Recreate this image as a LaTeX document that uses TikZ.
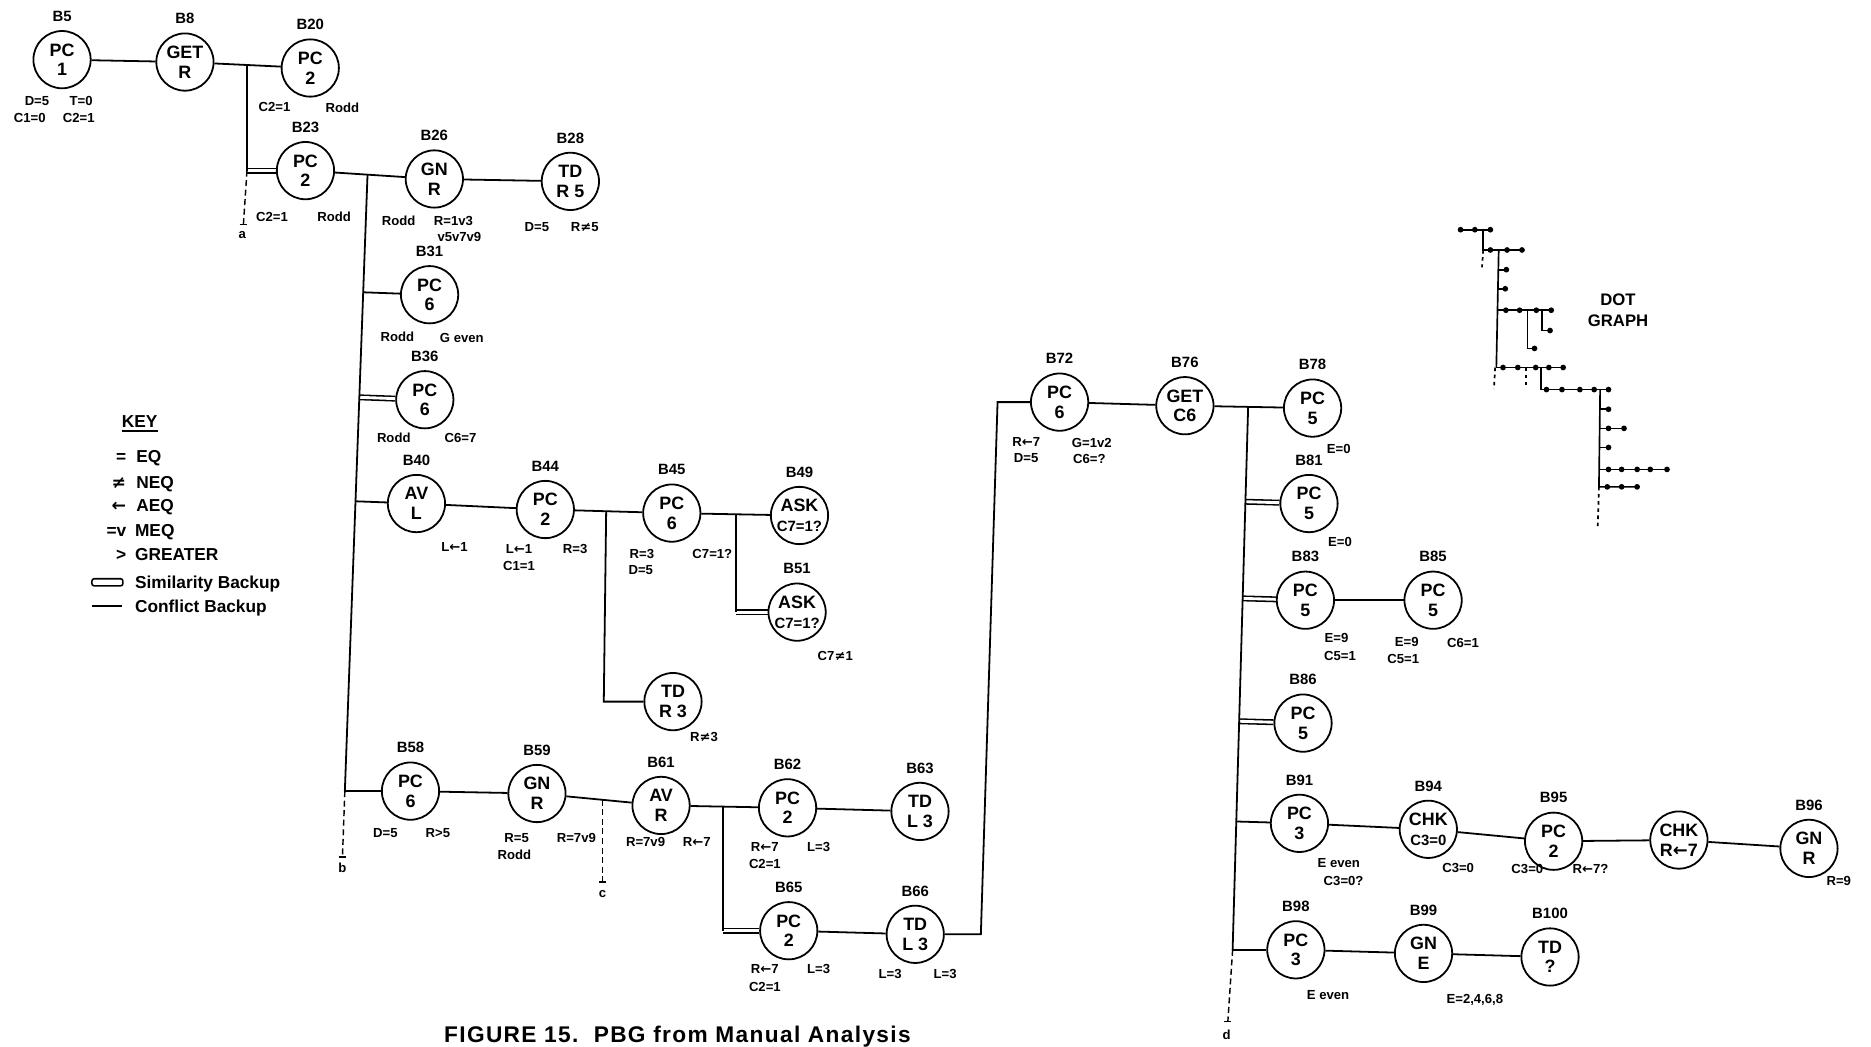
\documentclass[tikz,border=0pt]{standalone}
\usepackage{fontspec}
\setmainfont{Liberation Sans}
\newfontfamily\symf{DejaVu Sans}
\usetikzlibrary{calc}
\pgfdeclarelayer{background}
\pgfsetlayers{background,main}
\newcommand\arrl{{\symf\bfseries ←}}
\newcommand\neqs{{\symf\bfseries ≠}}
\newcommand\circF{\fontsize{15}{16.5}\selectfont\bfseries}
\newcommand\circS{\fontsize{12.5}{14}\selectfont\bfseries}
\newcommand\labF{\fontsize{12.5}{14}\selectfont\bfseries}
\newcommand\condF{\fontsize{11}{12}\selectfont\bfseries}
\newcommand\keyF{\fontsize{14.5}{16}\selectfont\bfseries}
\newcommand\capF{\fontsize{19}{22}\selectfont\bfseries}
\newcommand\bn[5]{%
  \node[circ] (#1) at (#2) {#3\\#4};
  \node[blab] (#1l) at ([yshift=7pt]#1.north) {#5};}
\newcommand\cl[3]{\node[cond] (#1) at (#2) {#3};}
\begin{document}
\begin{tikzpicture}[x=1pt,y=-1pt,
  circ/.style={circle,draw,line width=1.5pt,minimum size=48pt,inner sep=0pt,fill=white,align=center,font=\circF},
  blab/.style={anchor=south,inner sep=0pt,font=\labF},
  cond/.style={inner sep=0pt,font=\condF},
  conn/.style={line width=1.5pt},
  simil/.style={double,double distance=2.4pt,line width=1.3pt},
  dline/.style={line width=1.2pt,dash pattern=on 5pt off 3pt},
  endtick/.style={line width=1.3pt},
  endlab/.style={inner sep=0pt,font=\condF}]
\useasboundingbox (0,0) rectangle (1568,877);
\clip (0,0) rectangle (1568,877);

% ---------- nodes ----------
\bn{n5}{52,50}{PC}{1}{B5}
\bn{n8}{155,52}{GET}{R}{B8}
\bn{n20}{260,57}{PC}{2}{B20}
\bn{n23}{256,143}{PC}{2}{B23}
\bn{n26}{364,150}{GN}{R}{B26}
\bn{n28}{478,152}{TD}{R 5}{B28}
\bn{n31}{360,247}{PC}{6}{B31}
\bn{n36}{356,335}{PC}{6}{B36}
\bn{n40}{349,422}{AV}{L}{B40}
\bn{n44}{457,427}{PC}{2}{B44}
\bn{n45}{563,430}{PC}{6}{B45}
\bn{n49}{670,432}{ASK}{\circS C7=1?}{B49}
\bn{n51}{668,513}{ASK}{\circS C7=1?}{B51}
\node[circ] (ntd) at (564,588) {TD\\R 3};
\bn{n58}{344,663}{PC}{6}{B58}
\bn{n59}{450,665}{GN}{R}{B59}
\bn{n61}{554,675}{AV}{R}{B61}
\bn{n62}{660,677}{PC}{2}{B62}
\bn{n63}{771,680}{TD}{L 3}{B63}
\bn{n65}{661,780}{PC}{2}{B65}
\bn{n66}{767,783}{TD}{L 3}{B66}
\bn{n72}{888,337}{PC}{6}{B72}
\bn{n76}{993,340}{GET}{C6}{B76}
\bn{n78}{1100,342}{PC}{5}{B78}
\bn{n81}{1097,422}{PC}{5}{B81}
\bn{n83}{1094,503}{PC}{5}{B83}
\bn{n85}{1201,503}{PC}{5}{B85}
\bn{n86}{1092,606}{PC}{5}{B86}
\bn{n91}{1089,690}{PC}{3}{B91}
\bn{n94}{1197,695}{CHK}{\circS C3=0}{B94}
\bn{n95}{1302,705}{PC}{2}{B95}
\node[circ] (nchk) at (1407,704) {CHK\\R\arrl7};
\bn{n96}{1516,711}{GN}{R}{B96}
\bn{n98}{1086,796}{PC}{3}{B98}
\bn{n99}{1193,799}{GN}{E}{B99}
\bn{n100}{1299,802}{TD}{?}{B100}

% ---------- condition labels ----------
\cl{c1}{31,85}{D=5} \cl{c2}{68,85}{T=0}
\cl{c3}{25,99}{C1=0} \cl{c4}{66,99}{C2=1}
\cl{c5}{230,90}{C2=1} \cl{c6}{287,90}{Rodd}
\cl{c7}{228,182}{C2=1} \cl{c8}{280,182}{Rodd}
\cl{c9}{334,185}{Rodd} \cl{c10}{380,185}{R=1v3} \cl{c11}{385,199}{v5v7v9}
\cl{c12}{450,190}{D=5} \cl{c13}{490,190}{R\neqs5}
\cl{c14}{333,282}{Rodd} \cl{c15}{387,283}{G even}
\cl{c16}{330,367}{Rodd} \cl{c17}{386,367}{C6=7}
\cl{c18}{381,458}{L\arrl1}
\cl{c19}{435,460}{L\arrl1} \cl{c20}{482,460}{R=3} \cl{c21}{435,474}{C1=1}
\cl{c22}{538,464}{R=3} \cl{c23}{597,464}{C7=1?} \cl{c24}{537,478}{D=5}
\cl{c25}{700,550}{C7\neqs1}
\cl{c26}{590,618}{R\neqs3}
\cl{c27}{323,698}{D=5} \cl{c28}{367,698}{R>5}
\cl{c29}{433,702}{R=5} \cl{c30}{483,702}{R=7v9} \cl{c31}{431,716}{Rodd}
\cl{c32}{541,706}{R=7v9} \cl{c33}{584,706}{R\arrl7}
\cl{c34}{641,710}{R\arrl7} \cl{c35}{686,710}{L=3} \cl{c36}{641,724}{C2=1}
\cl{c37}{641,812}{R\arrl7} \cl{c38}{686,812}{L=3} \cl{c39}{641,827}{C2=1}
\cl{c40}{746,816}{L=3} \cl{c41}{792,816}{L=3}
\cl{c42}{860,370}{R\arrl7} \cl{c43}{915,371}{G=1v2}
\cl{c44}{860,384}{D=5} \cl{c45}{913,385}{C6=?}
\cl{c46}{1122,376}{E=0}
\cl{c47}{1123,454}{E=0}
\cl{c48}{1120,535}{E=9} \cl{c49}{1123,550}{C5=1}
\cl{c50}{1179,538}{E=9} \cl{c51}{1176,552}{C5=1} \cl{c52}{1226,539}{C6=1}
\cl{c53}{1122,723}{E even} \cl{c54}{1126,738}{C3=0?}
\cl{c55}{1222,727}{C3=0}
\cl{c56}{1280,728}{C3=0} \cl{c57}{1333,728}{R\arrl7?}
\cl{c58}{1541,738}{R=9}
\cl{c59}{1113,834}{E even}
\cl{c60}{1236,838}{E=2,4,6,8}

% ---------- connectors ----------
\begin{pgfonlayer}{background}
\coordinate (j1) at (207,54.5);
\coordinate (j1b) at (207,143);
\coordinate (j2) at (308,146.4);
\coordinate (j2b) at (289,663);
\coordinate (j3) at (508,428.4);
\coordinate (j3b) at (506,588);
\coordinate (j4) at (617,431);
\coordinate (j4b) at (617,513);
\coordinate (jc) at (505,670.3);
\coordinate (j5) at (606,676);
\coordinate (j5b) at (606,780);
\coordinate (q1) at (822,783);
\coordinate (q2) at (836,337);
\coordinate (j6) at (1046,341);
\coordinate (j6b) at (1033,796);
\coordinate (ea) at (204,188);
\coordinate (eb) at (287,718);
\coordinate (ec) at (505,739);
\coordinate (ed) at (1029,856);
\coordinate (p31) at ($(j2)!(n31)!(j2b)$);
\coordinate (p36) at ($(j2)!(n36)!(j2b)$);
\coordinate (p40) at ($(j2)!(n40)!(j2b)$);
\coordinate (p81) at ($(j6)!(n81)!(j6b)$);
\coordinate (p83) at ($(j6)!(n83)!(j6b)$);
\coordinate (p86) at ($(j6)!(n86)!(j6b)$);
\coordinate (p91) at ($(j6)!(n91)!(j6b)$);
% similarity backups
\draw[simil] (j1b) -- (n23);
\draw[simil] (p36) -- (n36);
\draw[simil] (j4b) -- (n51);
\draw[simil] (j5b) -- (n65);
\draw[simil] (p81) -- (n81);
\draw[simil] (p83) -- (n83);
\draw[simil] (p86) -- (n86);
% conflict backups / plain links
\draw[conn] (n5) -- (n8);
\draw[conn] (n8) -- (n20);
\draw[conn] (j1) -- (j1b);
\draw[conn] (n23) -- (n26);
\draw[conn] (n26) -- (n28);
\draw[conn] (j2) -- (j2b);
\draw[conn] (p31) -- (n31);
\draw[conn] (p40) -- (n40);
\draw[conn] (j2b) -- (n58);
\draw[conn] (n40) -- (n44);
\draw[conn] (n44) -- (n45);
\draw[conn] (j3) -- (j3b) -- (ntd);
\draw[conn] (n45) -- (n49);
\draw[conn] (j4) -- (j4b);
\draw[conn] (n58) -- (n59);
\draw[conn] (n59) -- (n61);
\draw[conn] (n61) -- (n62);
\draw[conn] (j5) -- (j5b);
\draw[conn] (n62) -- (n63);
\draw[conn] (n65) -- (n66);
\draw[conn] (n66) -- (q1) -- (q2) -- (n72);
\draw[conn] (n72) -- (n76);
\draw[conn] (n76) -- (n78);
\draw[conn] (j6) -- (j6b);
\draw[conn] (n83) -- (n85);
\draw[conn] (p91) -- (n91);
\draw[conn] (n91) -- (n94);
\draw[conn] (n94) -- (n95);
\draw[conn] (n95) -- (nchk);
\draw[conn] (nchk) -- (n96);
\draw[conn] (j6b) -- (n98);
\draw[conn] (n98) -- (n99);
\draw[conn] (n99) -- (n100);
% dashed continuations
\draw[dline] (j1b) -- (ea);
\draw[dline] (j2b) -- (eb);
\draw[dline] (jc) -- (ec);
\draw[dline] (j6b) -- (ed);
\foreach \e in {ea,eb,ec,ed}
  \draw[endtick] ([xshift=-3pt]\e) -- ([xshift=3pt]\e);
\end{pgfonlayer}
\node[endlab] (la) at (203,197) {a};
\node[endlab] (lb) at (287,727) {b};
\node[endlab] (lc) at (505,749) {c};
\node[endlab] (ld) at (1028,867) {d};

% ---------- key ----------
\node[font=\keyF,inner sep=0pt] (key) at (117,353) {KEY};
\draw[line width=1.2pt] ([yshift=-3pt]key.south west) -- ([yshift=-3pt]key.south east);
\node[font=\keyF,anchor=base east,inner sep=0pt] (ks1) at (106,388) {=};
\node[font=\keyF,anchor=base west,inner sep=0pt] (kt1) at (114,388) {EQ};
\node[font=\keyF,anchor=base east,inner sep=0pt] (ks2) at (106,409) {\neqs};
\node[font=\keyF,anchor=base west,inner sep=0pt] (kt2) at (114,409) {NEQ};
\node[font=\keyF,anchor=base east,inner sep=0pt] (ks3) at (106,429) {\arrl};
\node[font=\keyF,anchor=base west,inner sep=0pt] (kt3) at (114,429) {AEQ};
\node[font=\keyF,anchor=base east,inner sep=0pt] (ks4) at (106,450) {=v};
\node[font=\keyF,anchor=base west,inner sep=0pt] (kt4) at (113,450) {MEQ};
\node[font=\keyF,anchor=base east,inner sep=0pt] (ks5) at (106,470) {>};
\node[font=\keyF,anchor=base west,inner sep=0pt] (kt5) at (113,470) {GREATER};
\draw[line width=1.3pt,rounded corners=2pt] (77,485) rectangle (103,491);
\node[font=\keyF,anchor=base west,inner sep=0pt] (kt6) at (113,493) {Similarity Backup};
\draw[line width=1.5pt] (77,508) -- (102,508);
\node[font=\keyF,anchor=base west,inner sep=0pt] (kt7) at (113,513) {Conflict Backup};

% ---------- dot graph ----------
\node[font=\fontsize{14}{18}\selectfont\bfseries,align=center,inner sep=0pt] (dg) at (1356,260) {DOT\\GRAPH};
\begin{scope}[line width=1.4pt]
\draw (1224,192.5) -- (1249,192.5);
\draw (1243,192.5) -- (1243,209.5) -- (1275.5,209.5);
\draw[dashed] (1243,209.5) -- (1242,224);
\draw (1256,209.5) -- (1254,308);
\draw (1255.8,226) -- (1262.4,226);
\draw (1255.5,242) -- (1261.5,242);
\draw (1255,260) -- (1300,260);
\draw (1280,260) -- (1280,292) -- (1286,292);
\draw (1292,260) -- (1292,277) -- (1299,277);
\draw (1254,308) -- (1310,308);
\draw[dashed] (1253,308) -- (1252,326);
\draw[dashed] (1279,308) -- (1279,326);
\draw (1291.4,308) -- (1291.4,326.5) -- (1348,326.5);
\draw (1341,326.5) -- (1340,408) -- (1372,408);
\draw (1341,343) -- (1348,343);
\draw (1340.8,359) -- (1361,359);
\draw (1340.6,375) -- (1348,375);
\draw (1340.3,393.4) -- (1397,393.4);
\draw[dashed] (1340,408) -- (1339,441);
\foreach \p in {(1224,192.5),(1236,192.5),(1249,192.5),
  (1249,209.5),(1263,209.5),(1275.5,209.5),
  (1262.4,226),(1261.5,242),
  (1262,260),(1273.5,260),(1287.5,260),(1300,260),
  (1286,292),(1299,277),
  (1259.6,308),(1272,308),(1287,308),(1298,308),(1310,308),
  (1296,326.5),(1309,326.5),(1324,326.5),(1336,326.5),(1348,326.5),
  (1348,343),(1348,359),(1361,359),(1348,375),
  (1348,393.4),(1359,393.4),(1372,393.4),(1383,393.4),(1397,393.4),
  (1347,408),(1359,408),(1372,408)}
  \fill \p circle (2.4);
\end{scope}

% ---------- caption ----------
\node[font=\capF,anchor=base west,inner sep=0pt] (cap) at (372,874)
  {\addfontfeature{LetterSpace=6}FIGURE 15.\ \ PBG from Manual Analysis};
\end{tikzpicture}
\end{document}
